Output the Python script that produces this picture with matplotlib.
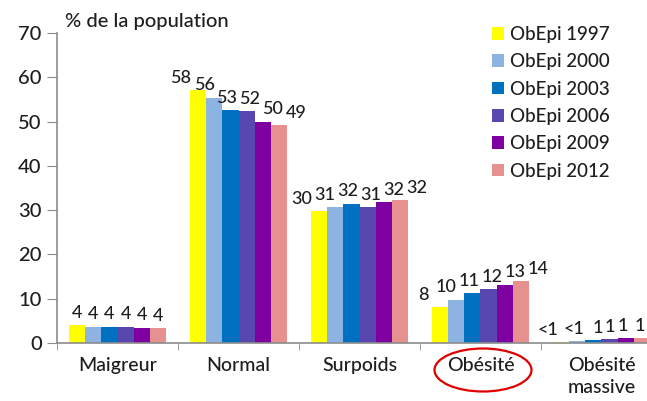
import matplotlib

matplotlib.use("Agg")
import matplotlib.pyplot as plt
import numpy as np
from matplotlib.patches import Ellipse

plt.rcParams["font.family"] = ["Lato", "DejaVu Sans"]
plt.rcParams["font.weight"] = "medium"

categories = ["Maigreur", "Normal", "Surpoids", "Obésité", "Obésité\nmassive"]
series = ["ObEpi 1997", "ObEpi 2000", "ObEpi 2003", "ObEpi 2006", "ObEpi 2009", "ObEpi 2012"]
colors = ["#FFFF00", "#8DB3E2", "#0070C0", "#5747AE", "#7E00A0", "#E69190"]

# values per series, across the five categories
values = [
    [4.1, 57.2, 29.8, 8.1, 0.3],
    [3.7, 55.4, 30.6, 9.8, 0.4],
    [3.7, 52.6, 31.5, 11.3, 0.7],
    [3.7, 52.3, 30.6, 12.2, 0.8],
    [3.5, 50.0, 31.9, 13.2, 1.1],
    [3.3, 49.2, 32.2, 13.9, 1.2],
]
labels = [
    ["4", "58", "30", "8", "<1"],
    ["4", "56", "31", "10", "<1"],
    ["4", "53", "32", "11", "1"],
    ["4", "52", "31", "12", "1"],
    ["4", "50", "32", "13", "1"],
    ["4", "49", "32", "14", "1"],
]
yticks = [0, 10, 20, 30, 40, 50, 60, 70]

txt = "#1e1e1e"
grey = "#8c8c8c"

fig = plt.figure(figsize=(6.47, 4.01), dpi=100)
ax = fig.add_axes([57 / 647, 58 / 401, 590 / 647, 310 / 401])

x = np.arange(len(categories))
bw = 0.8 / len(series)
# value labels are spread wider than the bars
label_step = [bw, 0.19, 0.19, 0.19, None]
massive_dx = [-0.44, -0.23, -0.03, 0.07, 0.18, 0.32]  # last group, by hand
for i, (name, col, vals, labs) in enumerate(zip(series, colors, values, labels)):
    pos = x + (i - 2.5) * bw
    ax.bar(pos, vals, width=bw, color=col, label=name, linewidth=0)
    for j, (v, lab) in enumerate(zip(vals, labs)):
        if label_step[j] is None:
            lx = x[j] + massive_dx[i]
        else:
            lx = x[j] + (i - 2.5) * label_step[j]
        ax.annotate(lab, (lx, v), xytext=(0, 3), textcoords="offset points",
                    ha="center", va="bottom", fontsize=13, color=txt,
                    annotation_clip=False)

ax.set_ylim(0, 70)
ax.set_xlim(-0.5, -0.5 + 590 / 121)
ax.set_yticks(yticks)
ax.tick_params(axis="y", length=7, color=grey, labelsize=14.5, labelcolor=txt, pad=4)
ax.set_xticks(x)
ax.set_xticklabels(categories, fontsize=14, color=txt)
for t in ax.get_xticklabels():
    t.set_linespacing(1.4)
ax.tick_params(axis="x", length=0, pad=10)
ax.set_xticks(np.arange(len(categories)) - 0.5, minor=True)
ax.tick_params(axis="x", which="minor", length=5, color=grey)
for s in ("top", "right"):
    ax.spines[s].set_visible(False)
for s in ("left", "bottom"):
    ax.spines[s].set_color(grey)
    ax.spines[s].set_linewidth(1.2)

fig.text(65 / 647, 1 - 22 / 401, "% de la population", fontsize=14.5,
         color=txt, ha="left", va="center")

ax.legend(loc="upper left", bbox_to_anchor=(492 / 647, 1 - 26 / 401),
          bbox_transform=fig.transFigure, frameon=False, fontsize=13.5,
          borderpad=0, borderaxespad=0, labelspacing=0.55,
          handlelength=0.65, handleheight=0.65, handletextpad=0.3,
          labelcolor=txt)

fig.patches.append(Ellipse((483 / 647, 1 - 370 / 401), 97 / 647, 43 / 401,
                           transform=fig.transFigure, fill=False,
                           edgecolor="#E00000", linewidth=1.6))

fig.savefig("out.png")
